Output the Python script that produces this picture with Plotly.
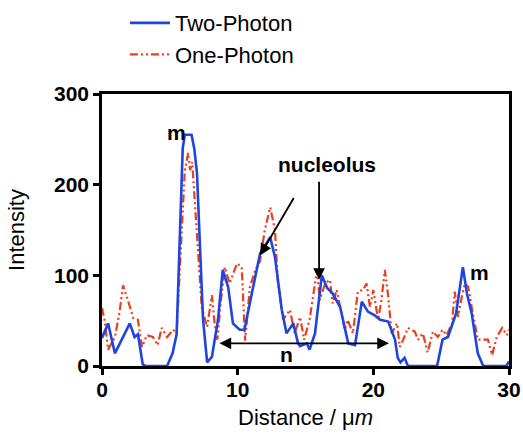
import plotly.graph_objects as go

# Two-Photon (blue) profile
two_x = [0, 0.45, 0.95, 1.5, 2.05, 2.4, 2.65, 3.0, 3.2, 4.8, 5.2, 5.5, 5.75, 5.95, 6.1, 6.6, 6.8, 7.0, 7.2,
         7.45, 7.75, 8.1, 8.55, 8.9, 9.3, 9.65, 10.15, 10.5, 11.1, 11.65, 12.4, 12.75, 13.25, 13.6, 14.1,
         14.45, 14.6, 15.1, 15.3, 15.7, 16.2, 16.6, 17.0, 17.55, 18.15, 18.65, 19.15, 19.6, 20.1, 20.5,
         21.1, 21.6, 21.8, 22.0, 22.3, 22.55, 24.7, 25.1, 25.5, 26.1, 26.6, 26.9, 27.25, 27.7, 28.1, 29.8, 30]
two_y = [31, 47, 14, 30, 47, 32, 35, 2, 0, 0, 14, 35, 160, 240, 255, 255, 240, 213, 140,
         51, 4, 10, 51, 106, 87, 47, 40, 40, 84, 124, 142, 120, 62, 36, 47,
         25, 22, 25, 18, 36, 100, 86, 80, 65, 25, 23, 71, 60, 56, 51,
         49, 29, 9, 4, 9, 0, 0, 29, 32, 58, 109, 80, 58, 14, 0, 0, 5]

# One-Photon (red) profile
one_x = [0, 0.2, 0.45, 0.95, 1.3, 1.55, 1.9, 2.3, 2.65, 2.95, 3.3, 3.75, 4.1, 4.4, 4.8, 5.25, 5.5, 5.8,
         6.1, 6.35, 6.5, 6.65, 6.85, 7.1, 7.35, 7.75, 8.1, 8.3, 8.5, 8.75, 9.05, 9.4, 9.95, 10.3, 10.55,
         10.9, 11.3, 11.65, 12.0, 12.4, 12.75, 12.95, 13.35, 13.85, 14.2, 14.6, 14.9, 15.3, 15.85, 16.05,
         16.45, 16.8, 17.0, 17.3, 17.7, 17.9, 18.1, 18.5, 18.85, 19.25, 19.5, 19.75, 20.0, 20.35, 20.6,
         20.85, 21.1, 21.35, 21.75, 21.95, 22.2, 22.55, 23.05, 23.3, 23.65, 24.0, 24.4, 24.75, 25.1, 25.4,
         25.8, 26.0, 26.25, 26.5, 26.75, 27.0, 27.25, 27.5, 27.7, 28.1, 28.45, 28.75, 29.1, 29.5, 29.85, 30]
one_y = [64, 50, 18, 32, 60, 89, 73, 53, 51, 21, 34, 32, 23, 42, 32, 40, 36, 120,
         215, 235, 216, 225, 180, 124, 65, 43, 78, 47, 29, 70, 109, 91, 113, 109, 28,
         87, 106, 116, 150, 175, 150, 95, 51, 62, 36, 54, 29, 51, 106, 73,
         91, 95, 69, 84, 54, 40, 51, 36, 82, 84, 91, 65, 84, 51, 73,
         106, 76, 36, 47, 21, 29, 42, 38, 29, 36, 15, 38, 32, 40, 34,
         47, 82, 54, 75, 91, 87, 65, 47, 29, 29, 29, 12, 32, 42, 34, 40]

x_ticks = [0, 10, 20, 30]
y_ticks = [0, 100, 200, 300]

FONT = "Arial, Liberation Sans, Helvetica, sans-serif"

fig = go.Figure()
fig.add_trace(go.Scatter(x=one_x, y=one_y, mode="lines", name="One-Photon", legendrank=2,
                         line=dict(color="#e8401c", width=2.2, dash="8px,3px,2px,3px,2px,3px")))
fig.add_trace(go.Scatter(x=two_x, y=two_y, mode="lines", name="Two-Photon", legendrank=1,
                         line=dict(color="#1f44e0", width=2.6)))

ann_font = dict(family=FONT, size=21, color="black")
fig.add_annotation(x=6.45, y=257, text="<b>m</b>", showarrow=False, xanchor="right", yanchor="middle", font=ann_font, xshift=-2)
fig.add_annotation(x=26.8, y=103, text="<b>m</b>", showarrow=False, xanchor="left", yanchor="middle", font=ann_font, xshift=2)
fig.add_annotation(x=16.55, y=222, text="<b>nucleolus</b>", showarrow=False, yanchor="middle", font=ann_font)
fig.add_annotation(x=13.6, y=13, text="<b>n</b>", showarrow=False, yanchor="middle", font=ann_font)
# arrows
fig.add_annotation(x=11.65, y=122, ax=14.2, ay=187, axref="x", ayref="y", xref="x", yref="y",
                   text="", showarrow=True, arrowhead=2, arrowsize=1.3, arrowwidth=1.8, arrowcolor="black")
fig.add_annotation(x=16.0, y=95, ax=16.0, ay=205, axref="x", ayref="y", xref="x", yref="y",
                   text="", showarrow=True, arrowhead=2, arrowsize=1.3, arrowwidth=1.8, arrowcolor="black")
fig.add_annotation(x=21.15, y=25, ax=8.55, ay=25, axref="x", ayref="y", xref="x", yref="y",
                   text="", showarrow=True, arrowhead=2, startarrowhead=2, arrowside="end+start",
                   arrowsize=1.3, startarrowsize=1.3, arrowwidth=1.8, arrowcolor="black")

axis_common = dict(showline=True, linewidth=2.5, linecolor="black", mirror=True, ticks="outside",
                   ticklen=6, tickwidth=2.5, tickcolor="black", showgrid=False, zeroline=False,
                   tickfont=dict(family=FONT, size=21, color="black", weight="bold"))

fig.update_layout(
    width=523, height=434,
    margin=dict(l=102, r=14, t=94, b=68, autoexpand=False),
    paper_bgcolor="white", plot_bgcolor="white",
    font=dict(family=FONT, color="black"),
    showlegend=True,
    legend=dict(x=0.0565, y=1.338, xanchor="left", yanchor="top",
                font=dict(family=FONT, size=22, color="black"),
                bgcolor="rgba(0,0,0,0)", itemwidth=40),
    xaxis=dict(range=[0, 30], tickvals=x_ticks, ticktext=[str(v) for v in x_ticks],
               ticklabelstandoff=-3,
               title=dict(text="Distance / μ<i>m</i>", font=dict(family=FONT, size=22, color="black"), standoff=10),
               **axis_common),
    yaxis=dict(range=[0, 300], tickvals=y_ticks, ticktext=[str(v) for v in y_ticks],
               title=dict(text="Intensity", font=dict(family=FONT, size=22, color="black"), standoff=24),
               **axis_common),
)

fig.write_html("out.html", config={"displayModeBar": False},
               post_script="document.body.style.margin='0';")
